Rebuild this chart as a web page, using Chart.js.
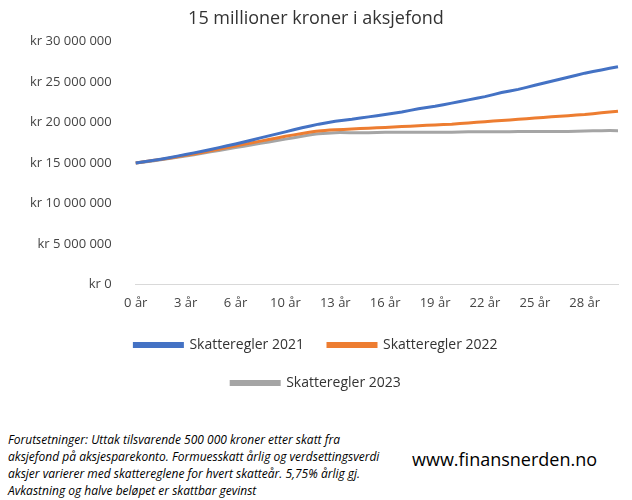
<!DOCTYPE html>
<html>
<head>
<meta charset="utf-8">
<script src="https://cdn.jsdelivr.net/npm/chart.js@4"></script>
<style>
  body { margin: 0; background: #fff; font-family: "Open Sans", sans-serif; }
  #wrap { position: absolute; left: 0; top: 0; width: 632px; height: 400px; }
  #note { position: absolute; left: 8px; top: 431px; width: 420px; font-size: 12px; font-style: italic; line-height: 17px; color: #000; white-space: nowrap; }
  #site { position: absolute; left: 412px; top: 447px; font-size: 18px; color: #000; }
</style>
</head>
<body>
<div id="wrap"><canvas id="chart"></canvas></div>
<div id="note">Forutsetninger: Uttak tilsvarende 500 000 kroner etter skatt fra<br>aksjefond på aksjesparekonto. Formuesskatt årlig og verdsettingsverdi<br>aksjer varierer med skattereglene for hvert skatteår. 5,75% årlig gj.<br>Avkastning og halve beløpet er skattbar gevinst</div>
<div id="site">www.finansnerden.no</div>
<script>
// Years shown on the x axis (category labels)
const years = [0, 1, 2, 3, 4, 5, 6, 8, 9, 10, 11, 12, 13, 14, 15, 16, 17, 18, 19, 20,
    21, 22, 23, 24, 25, 26, 27, 28, 29, 30];
const labels = years.map((y) => y + " år");

// Portfolio value (NOK) under each tax regime
const rules2021 = [15.0, 15.3, 15.65, 16.05, 16.45, 16.9, 17.35, 17.85, 18.35, 18.85, 19.35, 19.8, 20.15,
    20.4, 20.7, 21.0, 21.3, 21.7, 22.0, 22.4, 22.8, 23.2, 23.7, 24.1, 24.6, 25.1, 25.6, 26.1, 26.5, 26.9]
    .map((v) => v * 1e6);
const rules2022 = [15.0, 15.3, 15.6, 15.95, 16.3, 16.7, 17.1, 17.5, 17.9, 18.3, 18.65, 18.95, 19.1,
    19.2, 19.3, 19.4, 19.5, 19.6, 19.7, 19.8, 19.95, 20.1, 20.25, 20.4, 20.55, 20.7, 20.85, 21.0, 21.2, 21.4]
    .map((v) => v * 1e6);
const rules2023 = [15.0, 15.25, 15.55, 15.85, 16.2, 16.55, 16.9, 17.25, 17.6, 17.95, 18.3, 18.6, 18.75,
    18.75, 18.75, 18.8, 18.8, 18.8, 18.8, 18.8, 18.85, 18.85, 18.85, 18.9, 18.9, 18.9, 18.9, 18.95, 19.0, 19.0]
    .map((v) => v * 1e6);

const fmt = (v) => "kr " + String(Math.round(v)).replace(/\B(?=(\d{3})+(?!\d))/g, " ");

const line = (label, data, color) => ({
    label, data, borderColor: color, backgroundColor: color,
    borderWidth: 3, pointRadius: 0, tension: 0.1, fill: false,
});

new Chart(document.getElementById("chart"), {
    type: "line",
    data: {
        labels,
        datasets: [
            line("Skatteregler 2021", rules2021, "#4472c4"),
            line("Skatteregler 2022", rules2022, "#ed7d31"),
            line("Skatteregler 2023", rules2023, "#a5a5a5"),
        ],
    },
    options: {
        responsive: true,
        maintainAspectRatio: false,
        animation: false,
        layout: { padding: { left: 14, right: 14, top: 0, bottom: 0 } },
        plugins: {
            title: {
                display: true, text: "15 millioner kroner i aksjefond",
                color: "#333", font: { size: 18, family: "Open Sans", weight: "normal" },
                padding: { top: 8, bottom: 12 },
            },
            legend: {
                position: "bottom",
                labels: {
                    color: "#333", font: { size: 14, family: "Open Sans" },
                    boxWidth: 48, boxHeight: 3, padding: 24,
                },
            },
        },
        scales: {
            x: {
                grid: { display: false },
                border: { color: "#d9d9d9" },
                ticks: {
                    color: "#444", font: { size: 13, family: "Open Sans" },
                    maxRotation: 0, autoSkip: false,
                    callback: (v, i) => (i % 3 === 0 ? labels[i] : ""),
                },
            },
            y: {
                min: 0, max: 30e6,
                grid: { display: false },
                border: { display: false },
                ticks: {
                    stepSize: 5e6, color: "#444", font: { size: 13, family: "Open Sans" },
                    padding: 16, callback: (v) => (v === 0 ? "kr 0" : fmt(v)),
                },
            },
        },
    },
});
</script>
</body>
</html>
